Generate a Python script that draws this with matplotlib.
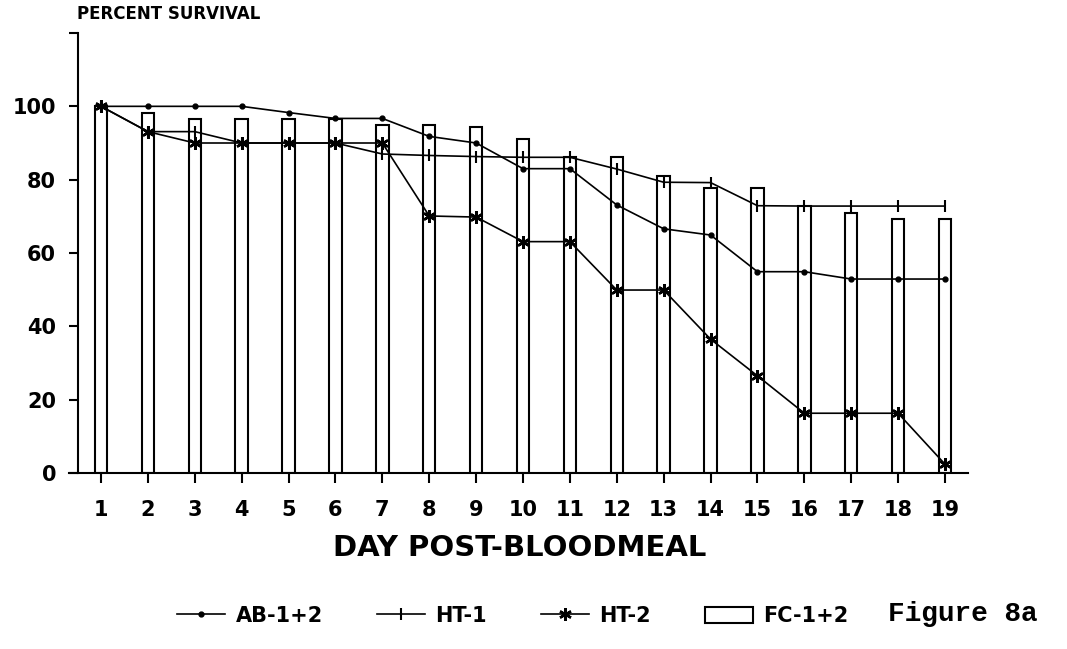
import numpy as np
import matplotlib.pyplot as plt
from matplotlib.lines import Line2D
from matplotlib.patches import Patch

days = np.arange(1, 20)
ab = [100, 100, 100, 100, 98.3, 96.7, 96.7, 91.8, 90.0, 83.0, 83.0, 73.1, 66.6, 64.9, 54.9, 54.9, 52.9, 52.9, 52.9]
ht1 = [100, 93.1, 93.1, 90, 90, 90, 87.0, 86.6, 86.3, 86.1, 86.1, 82.9, 79.3, 79.2, 72.9, 72.8, 72.8, 72.8, 72.8]
ht2 = [100, 93.1, 90, 90, 90, 90, 90, 70.1, 69.8, 63.1, 63.1, 49.9, 49.9, 36.5, 26.5, 16.3, 16.3, 16.3, 2.4]
fc = [100, 98.1, 96.5, 96.5, 96.5, 96.5, 95.0, 94.9, 94.3, 91.1, 86.3, 86.1, 81.1, 77.7, 77.8, 72.8, 71.0, 69.2, 69.2]
yticks = [0, 20, 40, 60, 80, 100, 120]
ylabels = ['0', '20', '40', '60', '80', '100', '']

fig = plt.figure(figsize=(10.67, 6.49), dpi=100)
ax = fig.add_axes([69 / 1067, 1 - 473 / 649, 899 / 1067, 440 / 649])

ax.bar(days, fc, width=0.265, color='white', edgecolor='black', linewidth=1.5, zorder=1)
ax.plot(days, ab, color='black', lw=1.2, marker='o', ms=3.5, zorder=3)
ax.plot(days, ht1, color='black', lw=1.2, marker='|', ms=8, mew=1.5, zorder=3)
ax.plot(days, ht2, color='black', lw=1.2, marker=(6, 2, 0), ms=9, mew=1.8, zorder=3)

ax.set_xlim(1 - 32 / 46.89, 19 + 23 / 46.89)
ax.set_ylim(0, 120)
ax.spines['left'].set_position(('data', 0.5))
ax.spines['top'].set_visible(False)
ax.spines['right'].set_visible(False)
for s in ['left', 'bottom']:
    ax.spines[s].set_linewidth(1.5)

ax.set_xticks(days)
ax.set_xticklabels([str(d) for d in days], fontsize=15, fontweight='bold')
ax.set_yticks(yticks)
ax.set_yticklabels(ylabels, fontsize=15, fontweight='bold')
ax.tick_params(axis='x', length=7.5, width=1.5, pad=12)
ax.tick_params(axis='y', length=6.5, width=1.5, pad=9)

fig.text(520 / 1067, 1 - 548 / 649, 'DAY POST-BLOODMEAL', fontsize=21, fontweight='bold',
         ha='center', va='center')
fig.text(77 / 1067, 1 - 14 / 649, 'PERCENT SURVIVAL', fontsize=12, fontweight='bold',
         ha='left', va='center')
fig.text(888 / 1067, 1 - 621 / 649, 'Figure 8a', fontsize=20, fontweight='bold',
         family='Liberation Mono', ha='left', va='baseline')

handles = [
    Line2D([], [], color='black', lw=1.2, marker='o', ms=3.5),
    Line2D([], [], color='black', lw=1.2, marker='|', ms=8, mew=1.5),
    Line2D([], [], color='black', lw=1.2, marker=(6, 2, 0), ms=9, mew=1.8),
    Patch(facecolor='white', edgecolor='black', linewidth=1.5),
]
fig.legend(handles, ['AB-1+2', 'HT-1', 'HT-2', 'FC-1+2'], loc='center',
           bbox_to_anchor=(513 / 1067, 1 - 616 / 649), ncol=4, frameon=False,
           prop={'size': 15, 'weight': 'bold'}, handlelength=2.3, handleheight=0.8,
           handletextpad=0.5, columnspacing=2.6)

fig.savefig('out.png', dpi=100)
